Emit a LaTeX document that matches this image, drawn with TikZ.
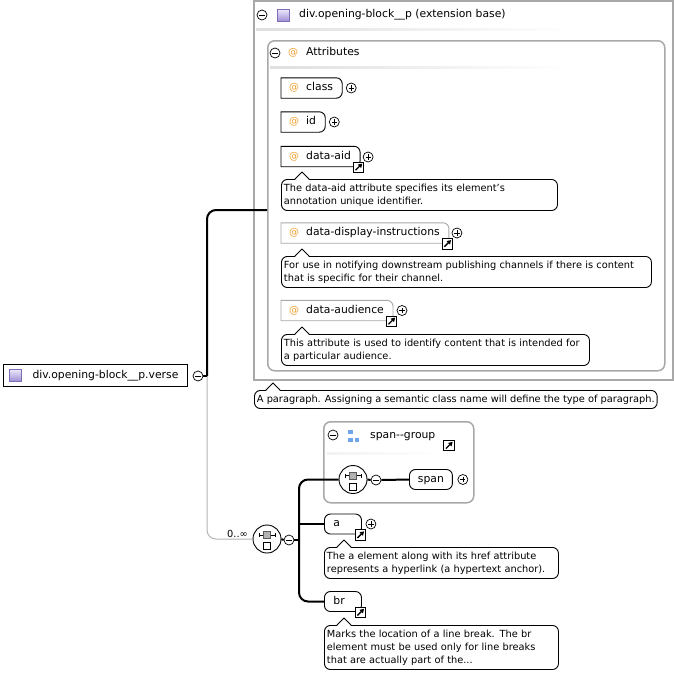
\documentclass[tikz,border=0pt]{standalone}
\usepackage{fontspec}
\setmainfont{DejaVu Sans}
\usetikzlibrary{arrows.meta}
\definecolor{boxgray}{HTML}{A8A8A8}
\definecolor{atorange}{HTML}{F0A030}
\definecolor{psqlight}{HTML}{ECE6FA}
\definecolor{psqdark}{HTML}{9C8CD4}
\definecolor{psqedge}{HTML}{7E6EB8}
\definecolor{grpblue}{HTML}{6EA6E8}
\definecolor{linegray}{HTML}{B4B4B4}
\newcommand\namefont{\fontsize{10.8}{13}\selectfont}
\newcommand\docfont{\fontsize{9.8}{13}\selectfont}
\newcommand\atsym{\makebox[17pt][l]{\textcolor{atorange}{\fontsize{10}{12}\selectfont @}}}
\newcommand\attrframe[2]{\draw[line width=0.9pt,#2] (#1.south west) -- (#1.north west) -- ([xshift=-6pt]#1.north east) arc[start angle=90,end angle=0,radius=6pt] -- ([yshift=6pt]#1.south east) arc[start angle=0,end angle=-90,radius=6pt] -- cycle;}
\newcommand\docptr[2]{\fill[white] ([xshift=#2-7pt,yshift=-0.9pt]#1.north west) -- ([xshift=#2,yshift=7pt]#1.north west) -- ([xshift=#2+7pt,yshift=-0.9pt]#1.north west) -- cycle;
\draw[line width=0.9pt,line join=round] ([xshift=#2-7pt]#1.north west) -- ([xshift=#2,yshift=7pt]#1.north west) -- ([xshift=#2+7pt]#1.north west);}
\begin{document}
\begin{tikzpicture}[x=1pt,y=1pt,
  pm/.style={circle,draw,line width=0.7pt,minimum size=10pt,inner sep=0,fill=white},
  plusc/.style={pm,path picture={\draw[line width=0.7pt] ([xshift=-2.6pt]path picture bounding box.center) -- ([xshift=2.6pt]path picture bounding box.center) ([yshift=-2.6pt]path picture bounding box.center) -- ([yshift=2.6pt]path picture bounding box.center);}},
  minusc/.style={pm,path picture={\draw[line width=0.7pt] ([xshift=-2.6pt]path picture bounding box.center) -- ([xshift=2.6pt]path picture bounding box.center);}},
  linkbox/.style={draw,line width=0.8pt,fill=white,minimum size=10.5pt,inner sep=0,
    path picture={\draw[line width=1.3pt,-{Triangle[length=4pt,width=4.6pt]}] ([shift={(2.2pt,2.2pt)}]path picture bounding box.south west) -- ([shift={(-1.6pt,-1.6pt)}]path picture bounding box.north east);}},
  attr/.style={inner sep=0,minimum height=20pt,text height=8pt,text depth=2.5pt,anchor=west,font=\namefont},
  elem/.style={draw,line width=0.9pt,rounded corners=6pt,inner sep=0,minimum height=20pt,text height=8pt,text depth=2.5pt,anchor=west,font=\namefont,fill=white},
  doc/.style={draw,line width=0.9pt,rounded corners=6pt,fill=white,anchor=north west,font=\docfont,align=left,inner xsep=2.5pt,inner ysep=4.3pt},
  grpbox/.style={draw=boxgray,line width=1.5pt,rounded corners=7pt,inner sep=0,anchor=north west},
  title/.style={font=\namefont,anchor=west,inner sep=0,text height=8pt,text depth=2.5pt},
  conn/.style={line width=2pt,black},
  thinconn/.style={line width=1pt,linegray},
  psq/.style={minimum size=12pt,inner sep=0,draw=psqedge,line width=0.5pt,top color=psqlight,bottom color=psqdark},
  seq/.style={circle,draw,line width=0.9pt,minimum size=28pt,inner sep=0,fill=white,
    path picture={
      \draw[line width=0.8pt] ([shift={(-8pt,4pt)}]path picture bounding box.center) -- ([shift={(8pt,4pt)}]path picture bounding box.center);
      \draw[line width=0.8pt] ([shift={(-8pt,2pt)}]path picture bounding box.center) -- ([shift={(-8pt,6pt)}]path picture bounding box.center);
      \draw[line width=0.8pt] ([shift={(8pt,2pt)}]path picture bounding box.center) -- ([shift={(8pt,6pt)}]path picture bounding box.center);
      \filldraw[fill=gray!60,draw=gray!70!black,line width=0.5pt] ([shift={(-3.5pt,0.5pt)}]path picture bounding box.center) rectangle ([shift={(3.5pt,7.5pt)}]path picture bounding box.center);
      \draw[fill=white,line width=0.7pt] ([shift={(-3.5pt,-10.5pt)}]path picture bounding box.center) rectangle ([shift={(3.5pt,-3.5pt)}]path picture bounding box.center);
    }},
]
\useasboundingbox (0,0) rectangle (674,-673);

% extension base box
\node[draw=boxgray,line width=1.5pt,minimum width=419pt,minimum height=379pt,anchor=north west,inner sep=0] (ext) at (253,0) {};
\node[minusc] (extm) at (262,-15) {};
\node[psq] (extsq) at (283,-15.5) {};
\node[title] (extt) at (299,-15) {div.opening-block\_\_p (extension base)};
\shade[left color=gray!25,middle color=gray!45,right color=white] (256,-28.5) rectangle (570,-30.5);

% attributes box
\node[grpbox,minimum width=397pt,minimum height=330pt] (attrs) at (267,-40) {};
\node[minusc] (attrm) at (275,-53) {};
\node[font=\fontsize{10}{12}\selectfont,text=atorange,inner sep=0] (attrat) at (293,-53) {@};
\node[title] (attrt) at (306,-53) {Attributes};
\shade[left color=gray!25,middle color=gray!45,right color=white] (270,-66) rectangle (570,-68);

% attribute nodes
\node[attr] (class) at (281,-88) {\hspace*{8pt}\atsym class\hspace*{9pt}};
\attrframe{class}{black}
\node[plusc] (classp) at ([xshift=9pt]class.east) {};

\node[attr] (id) at (281,-122) {\hspace*{8pt}\atsym id\hspace*{9pt}};
\attrframe{id}{black}
\node[plusc] (idp) at ([xshift=9pt]id.east) {};

\node[attr] (aid) at (281,-156.5) {\hspace*{8pt}\atsym data-aid\hspace*{9pt}};
\attrframe{aid}{black}
\node[linkbox] (aidl) at ([shift={(-1.5pt,-0.5pt)}]aid.south east) {};
\node[plusc] (aidp) at ([xshift=8pt,yshift=-0.5pt]aid.east) {};
\node[doc,text width=271pt] (aiddoc) at (281,-179) {The data-aid attribute specifies its element's\\annotation unique identifier.};
\docptr{aiddoc}{21pt}

\node[attr] (disp) at (281,-233) {\hspace*{8pt}\atsym data-display-instructions\hspace*{9pt}};
\attrframe{disp}{boxgray}
\node[linkbox] (displ) at ([shift={(-1.5pt,-0.5pt)}]disp.south east) {};
\node[plusc] (dispp) at ([xshift=8pt]disp.east) {};
\node[doc,text width=365pt] (dispdoc) at (281,-256) {For use in notifying downstream publishing channels if there is content\\that is specific for their channel.};
\docptr{dispdoc}{21pt}

\node[attr] (aud) at (281,-310.5) {\hspace*{8pt}\atsym data-audience\hspace*{9pt}};
\attrframe{aud}{boxgray}
\node[linkbox] (audl) at ([shift={(-1.5pt,-0.5pt)}]aud.south east) {};
\node[plusc] (audp) at ([xshift=9pt]aud.east) {};
\node[doc,text width=303pt] (auddoc) at (281,-334) {This attribute is used to identify content that is intended for\\a particular audience.};
\docptr{auddoc}{21pt}

% paragraph doc
\node[doc] (pardoc) at (254,-390) {A paragraph. Assigning a semantic class name will define the type of paragraph.};
\docptr{pardoc}{19pt}

% root
\node[draw,line width=1pt,anchor=west,minimum height=22pt,inner sep=0,font=\namefont,text height=8pt,text depth=2.5pt] (root) at (2.5,-375.5) {\hspace*{29.5pt}div.opening-block\_\_p.verse\hspace*{9pt}};
\node[psq] (rootsq) at ([xshift=13pt]root.west) {};
\node[minusc] (rootm) at (198,-376) {};

% span group box
\node[grpbox,minimum width=150pt,minimum height=81pt] (grp) at (323,-421) {};
\node[minusc] (grpm) at (333,-435) {};
\fill[grpblue] (348.3,-430) rectangle (352.6,-434.4);
\fill[grpblue] (348.3,-437.7) rectangle (352.6,-442);
\fill[grpblue] (354.5,-437.7) rectangle (358.8,-442);
\node[title] (grpt) at (370,-436) {span-{}-group};
\node[linkbox] (grpl) at (449,-445.5) {};
\shade[left color=gray!10,middle color=gray!45,right color=white] (327,-452) rectangle (440,-454);

\node[seq] (seqspan) at (353,-479.5) {};
\node[minusc] (spanm) at (376,-480) {};
\node[elem] (span) at (409,-479.5) {\hspace*{8.5pt}span\hspace*{8.5pt}};
\node[plusc] (spanp) at ([xshift=10pt]span.east) {};

% main sequence
\node[seq] (seqmain) at (267,-539) {};
\node[minusc] (mainm) at (289,-540) {};
\node[font=\docfont,anchor=base east,inner sep=0] (mult) at (248,-537) {0..∞};

\node[elem] (a) at (324,-524) {\makebox[37pt][l]{\hspace*{9pt}a}};
\node[linkbox] (al) at ([shift={(-1.5pt,-0.5pt)}]a.south east) {};
\node[plusc] (ap) at ([xshift=9pt]a.east) {};
\node[doc,text width=229pt] (adoc) at (324,-547) {The a element along with its href attribute\\represents a hyperlink (a hypertext anchor).};
\docptr{adoc}{20pt}

\node[elem] (br) at (324,-601.5) {\makebox[37pt][l]{\hspace*{9pt}br}};
\node[linkbox] (brl) at ([shift={(-1.5pt,-0.5pt)}]br.south east) {};
\node[doc,text width=229pt] (brdoc) at (324,-625) {Marks the location of a line break. The br\\element must be used only for line breaks\\that are actually part of the...};
\docptr{brdoc}{20pt}

% connectors
\coordinate (jroot) at (207,-376);
\coordinate (attin) at (267,-210);
\coordinate (jm) at (299,-540);
\draw[thinconn,rounded corners=9pt] (jroot) |- (seqmain.west);
\draw[conn] (rootm.east) -- (jroot);
\draw[conn,rounded corners=9pt] (jroot) |- (attin);
\draw[conn] (seqmain.east) -- (mainm.west);
\draw[conn] (mainm.east) -- (jm);
\draw[conn,rounded corners=9pt] (jm) |- (seqspan.west);
\draw[conn] (jm |- a.west) -- (a.west);
\draw[conn,rounded corners=9pt] (jm) |- (br.west);
\draw[conn] (seqspan.east) -- (spanm.west);
\draw[conn] (spanm.east) -- (span.west);
\end{tikzpicture}
\end{document}
